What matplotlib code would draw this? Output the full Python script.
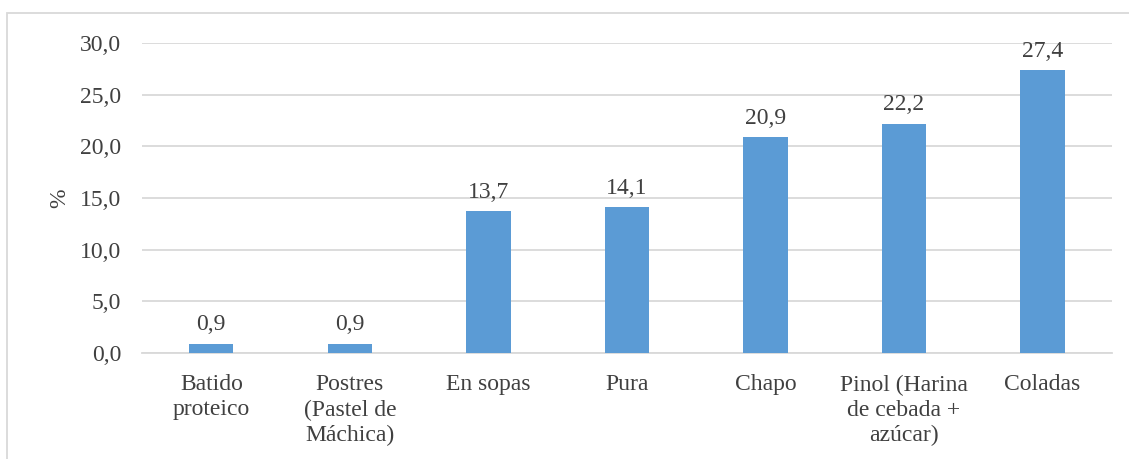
import matplotlib.pyplot as plt
from matplotlib.patches import Rectangle

categories = ["Batido\nproteico", "Postres\n(Pastel de\nMáchica)", "En sopas", "Pura",
              "Chapo", "Pinol (Harina\nde cebada +\nazúcar)", "Coladas"]
values = [0.9, 0.9, 13.7, 14.1, 20.9, 22.2, 27.4]
yticks = [0, 5, 10, 15, 20, 25, 30]

plt.rcParams['font.family'] = ['Liberation Serif', 'DejaVu Serif']
txt = '#404040'
grid = '#D9D9D9'
fs = 17

fig = plt.figure(figsize=(11.29, 4.59), dpi=100)
ax = fig.add_axes([0.1258, 0.231, 0.859, 0.6753])

x = range(len(categories))
bars = ax.bar(x, values, width=0.32, color='#5B9BD5', zorder=3)
for b, v in zip(bars, values):
    ax.annotate(f"{v:.1f}".replace('.', ','), (b.get_x() + b.get_width() / 2, v),
                xytext=(0, 6), textcoords='offset points', ha='center', va='bottom',
                fontsize=fs, color=txt)

ax.set_xlim(-0.5, len(categories) - 0.5)
ax.set_ylim(0, 30)
ax.set_yticks(yticks)
ax.set_yticklabels([f"{t:.1f}".replace('.', ',') for t in yticks], fontsize=fs, color=txt)
ax.set_xticks(list(x))
ax.set_xticklabels(categories, fontsize=fs, color=txt, linespacing=1.25, va='top')
ax.tick_params(axis='y', length=0, pad=15)
ax.tick_params(axis='x', length=0, pad=15.5)
ax.yaxis.grid(True, color=grid, linewidth=1.3, zorder=0)
for s in ['top', 'right', 'left']:
    ax.spines[s].set_visible(False)
ax.spines['bottom'].set_color(grid)
ax.spines['bottom'].set_linewidth(1.3)
ax.set_ylabel('%', fontsize=fs, color=txt, labelpad=7)

# outer chart frame
fig.patches.append(Rectangle((7 / 1129, -0.1), 1.2, 1 - 13 / 459 + 0.1,
                             transform=fig.transFigure, fill=False,
                             edgecolor=grid, linewidth=1.3))

fig.savefig('out.png', dpi=100)
